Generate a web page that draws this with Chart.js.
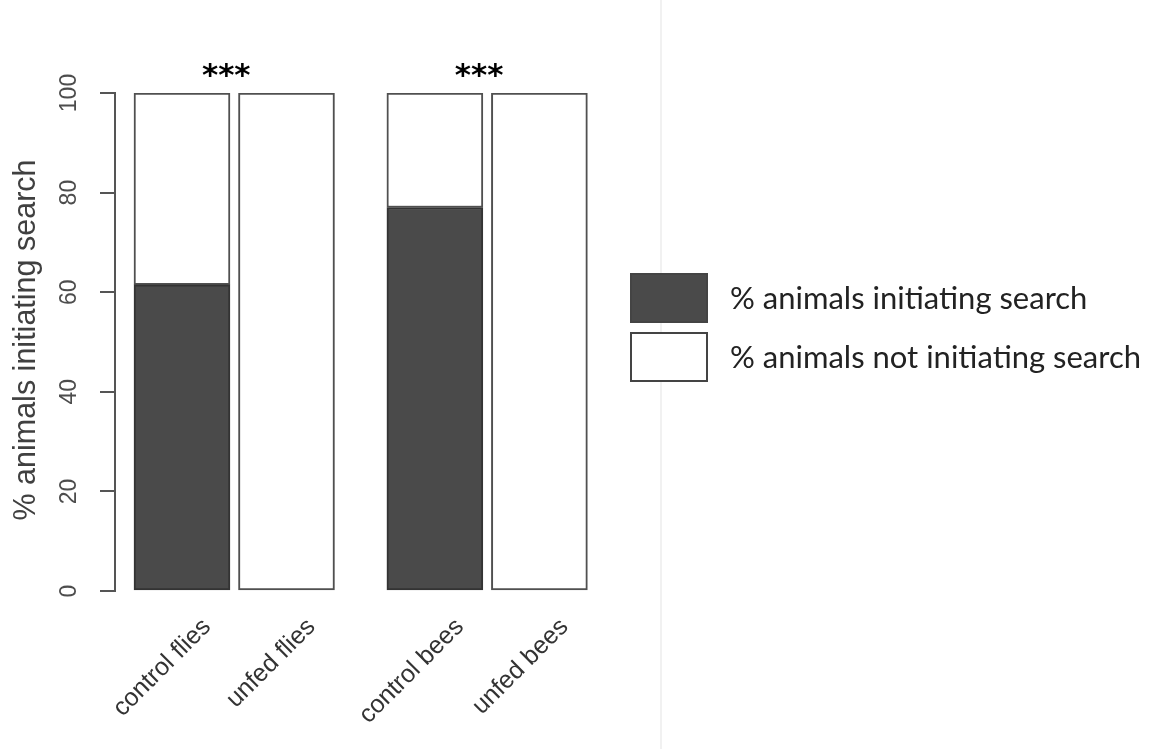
<!DOCTYPE html>
<html>
<head>
<meta charset="utf-8">
<script src="https://cdn.jsdelivr.net/npm/chart.js@4.4.1/dist/chart.umd.min.js"></script>
<style>
  html, body { margin: 0; padding: 0; background: #ffffff; }
  #wrap { position: relative; width: 1160px; height: 749px; }
</style>
</head>
<body>
<div id="wrap"><canvas id="c" width="1160" height="749"></canvas></div>
<script>
// Categories, grouped in pairs (flies, bees)
const categories = ['control flies', 'unfed flies', 'control bees', 'unfed bees'];
const groupSize = 2;
// Percentages per category
const initiating = [61.5, 0, 77, 0];
const notInitiating = [38.5, 100, 23, 100];
// Axis ticks and annotations
const yTicks = [0, 20, 40, 60, 80, 100];
const significance = ['***', '***'];
const seriesLabels = ['% animals initiating search', '% animals not initiating search'];
const yTitle = '% animals initiating search';

// slot index along x, with an extra gap between groups
const groupGap = 0.42;
const slot = i => i + Math.floor(i / groupSize) * groupGap;
const toPoints = vals => vals.map((v, i) => ({ x: slot(i), y: v }));

const DARK = '#4a4a4a';
const EDGE = '#505050';

const decorations = {
  id: 'decorations',
  afterDraw(chart) {
    const ctx = chart.ctx;
    const xs = chart.scales.x, ys = chart.scales.y;
    ctx.save();

    // faint page divider
    ctx.strokeStyle = '#f1f1f1';
    ctx.lineWidth = 2;
    ctx.beginPath(); ctx.moveTo(661, 0); ctx.lineTo(661, 749); ctx.stroke();

    // y tick labels, rotated
    ctx.fillStyle = '#4d4d4d';
    ctx.font = '23px "Liberation Sans", Arial, sans-serif';
    ctx.textAlign = 'center';
    ctx.textBaseline = 'middle';
    yTicks.forEach(t => {
      ctx.save();
      ctx.translate(70, ys.getPixelForValue(t));
      ctx.rotate(-Math.PI / 2);
      ctx.fillText(String(t), 0, 0);
      ctx.restore();
    });

    // y axis title
    ctx.save();
    ctx.font = '30.5px "Liberation Sans", Arial, sans-serif';
    ctx.fillStyle = '#404040';
    ctx.translate(27, (ys.top + ys.bottom) / 2 - 2);
    ctx.rotate(-Math.PI / 2);
    ctx.fillText(yTitle, 0, 0);
    ctx.restore();

    // x category labels at 45 degrees
    ctx.font = '25px "Liberation Sans", Arial, sans-serif';
    ctx.fillStyle = '#333333';
    ctx.textAlign = 'right';
    ctx.textBaseline = 'middle';
    categories.forEach((c, i) => {
      ctx.save();
      ctx.translate(xs.getPixelForValue(slot(i)) + 25, ys.bottom + 32);
      ctx.rotate(-Math.PI / 4);
      ctx.fillText(c, 0, 0);
      ctx.restore();
    });

    // significance marks above each group
    ctx.font = 'bold 31px "DejaVu Sans", sans-serif';
    ctx.fillStyle = '#000000';
    ctx.textAlign = 'center';
    ctx.textBaseline = 'middle';
    significance.forEach((s, g) => {
      const a = xs.getPixelForValue(slot(g * groupSize));
      const b = xs.getPixelForValue(slot(g * groupSize + groupSize - 1));
      ctx.fillText(s, (a + b) / 2 - 8, 77);
    });

    // legend
    const ds = chart.data.datasets;
    const boxX = 631, boxW = 76, boxH = 48;
    const rows = [274, 333];
    ctx.font = '31px Lato, "Open Sans", sans-serif';
    ctx.textAlign = 'left';
    ctx.textBaseline = 'middle';
    ds.forEach((d, k) => {
      const y = rows[k];
      ctx.fillStyle = d.backgroundColor;
      ctx.fillRect(boxX, y, boxW, boxH);
      ctx.strokeStyle = '#444444';
      ctx.lineWidth = 2;
      ctx.strokeRect(boxX, y, boxW, boxH);
      ctx.fillStyle = '#222222';
      ctx.fillText(d.label, 730, y + boxH / 2 + 1);
    });

    ctx.restore();
  }
};

new Chart(document.getElementById('c'), {
  type: 'bar',
  data: {
    datasets: [
      {
        label: seriesLabels[0],
        data: toPoints(initiating),
        backgroundColor: DARK,
        borderColor: '#333333',
        borderWidth: 2,
        borderSkipped: false
      },
      {
        label: seriesLabels[1],
        data: toPoints(notInitiating),
        backgroundColor: '#ffffff',
        borderColor: EDGE,
        borderWidth: 2,
        borderSkipped: false
      }
    ]
  },
  options: {
    responsive: false,
    animation: false,
    events: [],
    barThickness: 96,
    layout: { padding: { left: 100, top: 93, bottom: 158, right: 560 } },
    plugins: { legend: { display: false }, tooltip: { enabled: false } },
    scales: {
      x: {
        type: 'linear',
        stacked: true,
        offset: false,
        min: -0.641,
        max: 4.0,
        display: false
      },
      y: {
        stacked: true,
        min: 0,
        max: 100,
        afterBuildTicks: s => { s.ticks = yTicks.map(v => ({ value: v })); },
        ticks: { display: false },
        grid: {
          drawOnChartArea: false,
          drawTicks: true,
          tickLength: 15,
          color: '#555555',
          lineWidth: 2
        },
        border: { display: true, color: '#555555', width: 2 }
      }
    }
  },
  plugins: [decorations]
});
</script>
</body>
</html>
